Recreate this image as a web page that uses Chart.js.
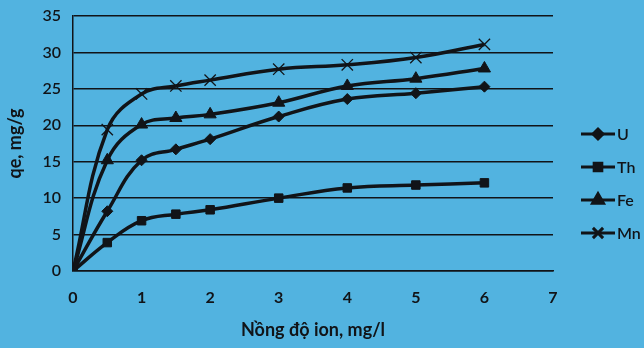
<!DOCTYPE html>
<html><head><meta charset="utf-8">
<script src="https://cdn.jsdelivr.net/npm/chart.js@4/dist/chart.umd.min.js"></script>
<style>
html,body{margin:0;padding:0;background:#52b3e0;}
#wrap{width:644px;height:348px;position:relative;}
</style></head>
<body><div id="wrap"><canvas id="c" width="644" height="348"></canvas></div>
<script>
const xValues = [0, 0.5, 1, 1.5, 2, 3, 4, 5, 6];
const seriesNames = ["U", "Th", "Fe", "Mn"];
const uValues  = [0, 8.2, 15.2, 16.7, 18.1, 21.2, 23.6, 24.4, 25.3];
const thValues = [0, 3.9, 6.9, 7.8, 8.4, 10.0, 11.4, 11.8, 12.1];
const feValues = [0, 15.2, 20.1, 21.0, 21.5, 23.1, 25.4, 26.4, 27.8];
const mnValues = [0, 19.4, 24.3, 25.4, 26.2, 27.7, 28.3, 29.3, 31.1];
const xTicks = [0, 1, 2, 3, 4, 5, 6, 7];
const yTicks = [0, 5, 10, 15, 20, 25, 30, 35];

const ink = '#111418';
const fam = 'Lato, "Open Sans", sans-serif';
const styles = [
  {pointStyle:'rectRot', radius:5.5, bw:1},
  {pointStyle:'rect', radius:6, bw:1},
  {pointStyle:'triangle', radius:7, bw:1},
  {pointStyle:'crossRot', radius:8, bw:1.3}
];
const allVals = [uValues, thValues, feValues, mnValues];
const datasets = allVals.map((vals, i) => ({
  label: seriesNames[i],
  data: xValues.map((x, j) => ({x: x, y: vals[j]})),
  borderColor: ink,
  backgroundColor: ink,
  borderWidth: 3.5,
  tension: 0.4,
  pointStyle: styles[i].pointStyle,
  pointRadius: styles[i].radius,
  pointBorderWidth: styles[i].bw,
  pointBackgroundColor: ink,
  pointBorderColor: ink
}));

const legendPlugin = {
  id: 'sideLegend',
  afterDraw(chart) {
    const ctx = chart.ctx;
    const x0 = 581, x1 = 615, ys = [134, 167, 200, 233];
    ctx.save();
    datasets.forEach((ds, i) => {
      const y = ys[i];
      ctx.strokeStyle = ink; ctx.lineWidth = 3;
      ctx.beginPath(); ctx.moveTo(x0, y); ctx.lineTo(x1, y); ctx.stroke();
      ctx.fillStyle = ink;
      Chart.helpers.drawPoint(ctx, {
        pointStyle: styles[i].pointStyle,
        radius: styles[i].radius * 0.9,
        borderWidth: styles[i].bw,
        rotation: 0
      }, (x0 + x1) / 2, y);
      ctx.font = '600 16px ' + fam;
      ctx.textBaseline = 'middle';
      ctx.textAlign = 'left';
      ctx.fillStyle = ink;
      ctx.fillText(ds.label, x1 + 2, y + 1);
    });
    ctx.restore();
  }
};

new Chart(document.getElementById('c'), {
  type: 'line',
  data: { datasets },
  options: {
    responsive: false,
    animation: false,
    layout: { padding: { top: 16, right: 91, left: 0, bottom: 0 } },
    plugins: { legend: { display: false }, tooltip: { enabled: false } },
    scales: {
      x: {
        type: 'linear', min: 0, max: 7,
        afterFit(s) { s.height = 77; s.paddingLeft = 0; s.paddingRight = 0; },
        afterBuildTicks(s) { s.ticks = xTicks.map(v => ({value: v})); },
        grid: { display: false, drawTicks: false },
        border: { display: true, color: ink, width: 1.5 },
        ticks: { padding: 17, color: ink, font: { family: fam, size: 16, weight: 'bold' } },
        title: { display: true, text: 'Nồng độ ion, mg/l', color: ink,
          font: { family: fam, size: 18, weight: 'bold' }, padding: { top: 6, bottom: 7 } }
      },
      y: {
        type: 'linear', min: 0, max: 35,
        afterFit(s) { s.width = 73; s.paddingTop = 0; s.paddingBottom = 0; },
        afterBuildTicks(s) { s.ticks = yTicks.map(v => ({value: v})); },
        grid: { color: ink, lineWidth: 1.5, drawTicks: false },
        border: { display: true, color: ink, width: 1.5 },
        ticks: { padding: 12, color: ink, font: { family: fam, size: 16, weight: '600' } },
        title: { display: true, text: 'qe, mg/g', color: ink,
          font: { family: fam, size: 18, weight: 'bold' }, padding: { top: 4, bottom: 4 } }
      }
    }
  },
  plugins: [legendPlugin]
});
</script></body></html>
